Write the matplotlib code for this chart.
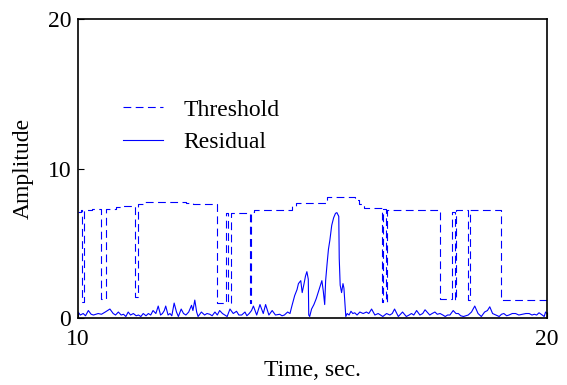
import matplotlib
matplotlib.use("Agg")
import matplotlib.pyplot as plt

plt.rcParams['font.family'] = ['Liberation Serif', 'DejaVu Serif']

# threshold: step function (time where each level starts, level)
thr_t = [10.0, 10.06, 10.08, 10.13, 10.3, 10.5, 10.59, 10.8, 10.95, 11.22, 11.28,
         11.4, 12.3, 12.45, 12.96, 13.16, 13.19, 13.27, 13.66, 13.68, 13.75,
         14.56, 14.65, 15.3, 15.9, 16.0, 16.1, 16.48, 16.5, 16.57, 16.59,
         17.72, 17.97, 18.03, 18.06, 18.32, 18.35, 19.03, 20.0]
thr_v = [7.1, 7.2, 1.1, 7.2, 7.3, 1.3, 7.3, 7.4, 7.5, 1.4, 7.6,
         7.75, 7.7, 7.6, 1.0, 7.0, 1.0, 7.0, 1.0, 7.1, 7.2,
         7.5, 7.7, 8.1, 7.9, 7.6, 7.35, 1.1, 7.3, 1.1, 7.2,
         1.3, 7.1, 1.2, 7.2, 1.2, 7.2, 1.2, 1.2]

# residual signal
res_t = [10.0, 10.05, 10.11, 10.16, 10.22, 10.28, 10.33, 10.43, 10.5, 10.58,
         10.68, 10.75, 10.8, 10.86, 10.92, 10.97, 11.02, 11.07, 11.12, 11.18,
         11.24, 11.29, 11.34, 11.39, 11.45, 11.5, 11.55, 11.6, 11.66, 11.71,
         11.76, 11.8, 11.84, 11.87, 11.92, 11.96, 12.0, 12.05, 12.1, 12.14,
         12.2, 12.25, 12.3, 12.36, 12.42, 12.45, 12.49, 12.53, 12.56, 12.63,
         12.7, 12.75, 12.81, 12.86, 12.92, 12.97, 13.02, 13.08, 13.13, 13.18,
         13.24, 13.31, 13.38, 13.43, 13.49, 13.56, 13.6, 13.65, 13.7, 13.74,
         13.81, 13.88, 13.95, 14.0, 14.07, 14.14, 14.21, 14.3, 14.35, 14.4,
         14.47, 14.52, 14.56, 14.62, 14.67, 14.7, 14.75, 14.78, 14.82, 14.85,
         14.88, 14.91, 14.92, 14.94, 14.98, 15.03, 15.08, 15.12, 15.17, 15.2,
         15.23, 15.25, 15.26, 15.28, 15.31, 15.34, 15.37, 15.41, 15.45, 15.49,
         15.52, 15.56, 15.57, 15.59, 15.62, 15.65, 15.67, 15.69, 15.71, 15.74,
         15.78, 15.82, 15.86, 15.9, 15.95, 16.01, 16.08, 16.15, 16.2, 16.26,
         16.33, 16.4, 16.45, 16.5, 16.58, 16.65, 16.7, 16.75, 16.83, 16.92,
         17.0, 17.06, 17.11, 17.16, 17.22, 17.29, 17.35, 17.4, 17.5, 17.55,
         17.61, 17.66, 17.72, 17.78, 17.83, 17.88, 17.93, 18.0, 18.06, 18.11,
         18.16, 18.22, 18.27, 18.32, 18.39, 18.46, 18.53, 18.6, 18.67, 18.73,
         18.78, 18.84, 18.91, 18.98, 19.03, 19.08, 19.14, 19.19, 19.26, 19.33,
         19.4, 19.48, 19.55, 19.62, 19.68, 19.73, 19.78, 19.83, 19.9, 19.94,
         19.97, 20.0]
res_v = [0.4, 0.2, 0.3, 0.15, 0.5, 0.25, 0.2, 0.3, 0.25, 0.4,
         0.6, 0.3, 0.2, 0.4, 0.2, 0.25, 0.1, 0.4, 0.2, 0.3,
         0.15, 0.2, 0.1, 0.3, 0.15, 0.3, 0.2, 0.5, 0.3, 0.8,
         0.2, 0.3, 0.5, 0.8, 0.2, 0.3, 0.15, 1.0, 0.4, 0.1,
         0.6, 0.3, 0.2, 0.4, 0.85, 0.5, 1.2, 0.4, 0.1, 0.4,
         0.2, 0.3, 0.25, 0.15, 0.4, 0.2, 0.5, 0.3, 0.2, 0.1,
         0.6, 0.3, 0.45, 0.2, 0.2, 0.4, 0.15, 0.3, 0.5, 0.8,
         0.2, 0.9, 0.3, 0.9, 0.2, 0.5, 0.2, 0.25, 0.15, 0.2,
         0.4, 0.3, 0.8, 1.5, 1.9, 2.3, 2.5, 1.7, 2.3, 2.8,
         3.1, 2.6, 0.2, 0.1, 0.6, 0.9, 1.3, 1.7, 2.2, 2.5,
         1.8, 1.2, 0.9, 2.5, 3.6, 4.6, 5.2, 6.2, 6.7, 7.0,
         7.05, 6.8, 4.0, 2.2, 1.7, 2.3, 2.0, 1.0, 0.1, 0.3,
         0.2, 0.45, 0.3, 0.35, 0.2, 0.4, 0.3, 0.4, 0.3, 0.6,
         0.2, 0.3, 0.2, 0.1, 0.3, 0.2, 0.3, 0.6, 0.1, 0.4,
         0.1, 0.2, 0.3, 0.2, 0.5, 0.2, 0.3, 0.55, 0.2, 0.3,
         0.4, 0.25, 0.3, 0.2, 0.1, 0.2, 0.2, 0.5, 0.3, 0.3,
         0.15, 0.1, 0.15, 0.2, 0.4, 0.8, 0.3, 0.1, 0.4, 0.5,
         0.75, 0.3, 0.2, 0.1, 0.25, 0.3, 0.15, 0.2, 0.3, 0.3,
         0.2, 0.25, 0.3, 0.3, 0.2, 0.25, 0.2, 0.35, 0.2, 0.1,
         0.4, 0.3]

fig = plt.figure(figsize=(5.67, 3.85), dpi=100)
ax = fig.add_axes([0.1376, 0.174, 0.8271, 0.7766])

ax.plot(thr_t, thr_v, color='#0000ff', lw=0.8, dashes=(7, 4),
        drawstyle='steps-post', label='Threshold')
ax.plot(res_t, res_v, color='#0000ff', lw=0.8, label='Residual')

ax.set_xlim(10, 20)
ax.set_ylim(0, 20)
ax.set_xticks([10, 20])
ax.set_yticks([0, 10, 20])
ax.tick_params(direction='in', length=4, labelsize=17)
ax.tick_params(axis='x', pad=8)
ax.tick_params(axis='y', pad=5)
for s in ax.spines.values():
    s.set_linewidth(1.2)

ax.set_xlabel('Time, sec.', fontsize=17, labelpad=7)
ax.set_ylabel('Amplitude', fontsize=17, labelpad=10)

ax.legend(loc='upper left', bbox_to_anchor=(0.096, 0.732), frameon=False,
          fontsize=17, handlelength=1.7, handletextpad=0.85, labelspacing=0.45,
          borderaxespad=0, borderpad=0)

fig.savefig('out.png', dpi=100)
